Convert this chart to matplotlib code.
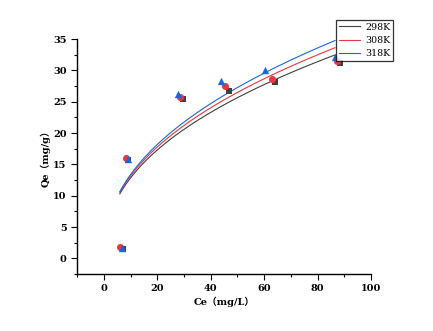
import numpy as np
import matplotlib
matplotlib.use("Agg")
import matplotlib.pyplot as plt

# Data
temps = ["298K", "308K", "318K"]
ce_298 = [7.0, 9.0, 29.6, 46.8, 64.0, 88.2]
qe_298 = [1.5, 15.7, 25.4, 26.7, 28.1, 31.2]
ce_308 = [6.0, 8.2, 28.5, 45.2, 63.0, 87.4]
qe_308 = [1.85, 16.0, 25.8, 27.5, 28.6, 31.5]
ce_318 = [6.9, 8.9, 27.6, 44.0, 60.3, 86.5]
qe_318 = [1.6, 15.9, 26.3, 28.3, 30.0, 32.1]
# Freundlich fit parameters (K, 1/n)
fit_K = [4.77, 4.83, 4.82]
fit_inv_n = [0.430, 0.435, 0.443]
fit_range = (6.0, 86.5)

line_colors = ["#404040", "#e8383d", "#1a66d9"]
markers = ["s", "o", "^"]
marker_sizes = [20, 26, 28]

plt.rcParams['font.family'] = ['DejaVu Serif', 'Noto Sans CJK SC']
fig = plt.figure(figsize=(4.33, 3.31), dpi=100)
ax = fig.add_axes([0.178, 0.172, 0.679, 0.710])

ces = [ce_298, ce_308, ce_318]
qes = [qe_298, qe_308, qe_318]
xx = np.linspace(fit_range[0], fit_range[1], 200)
for i in range(3):
    yy = fit_K[i] * xx ** fit_inv_n[i]
    ax.plot(xx, yy, color=line_colors[i], lw=0.8, label=temps[i], zorder=2)
for i in range(3):
    ax.scatter(ces[i], qes[i], marker=markers[i], s=marker_sizes[i], color=line_colors[i],
               linewidths=0, zorder=3 + i)

ax.set_xlim(-10, 100)
ax.set_ylim(-2.5, 35)
ax.set_xticks(range(0, 101, 20))
ax.set_xticks(range(-10, 101, 10), minor=True)
ax.set_yticks(range(0, 36, 5))
ax.set_yticks(np.arange(-2.5, 35.1, 2.5), minor=True)
for s in ["top", "right"]:
    ax.spines[s].set_visible(False)
for s in ["left", "bottom"]:
    ax.spines[s].set_linewidth(1.0)
ax.tick_params(which="major", direction="out", length=4, width=0.8, labelsize=7)
ax.tick_params(which="minor", direction="out", length=2, width=0.8)
for lab in ax.get_xticklabels() + ax.get_yticklabels():
    lab.set_fontweight("bold")

ax.set_xlabel("Ce（mg/L）", fontsize=7, fontweight="bold", labelpad=2)
ax.set_ylabel("Qe（mg/g）", fontsize=7, fontweight="bold", labelpad=2)

leg = fig.legend(loc="upper left", bbox_to_anchor=(0.776, 0.940), fontsize=6.8,
                 frameon=True, fancybox=False, edgecolor="black", handlelength=2.2,
                 borderpad=0.3, labelspacing=0.45, handletextpad=0.6, borderaxespad=0)
leg.get_frame().set_linewidth(0.9)

fig.savefig("out.png", dpi=100)
